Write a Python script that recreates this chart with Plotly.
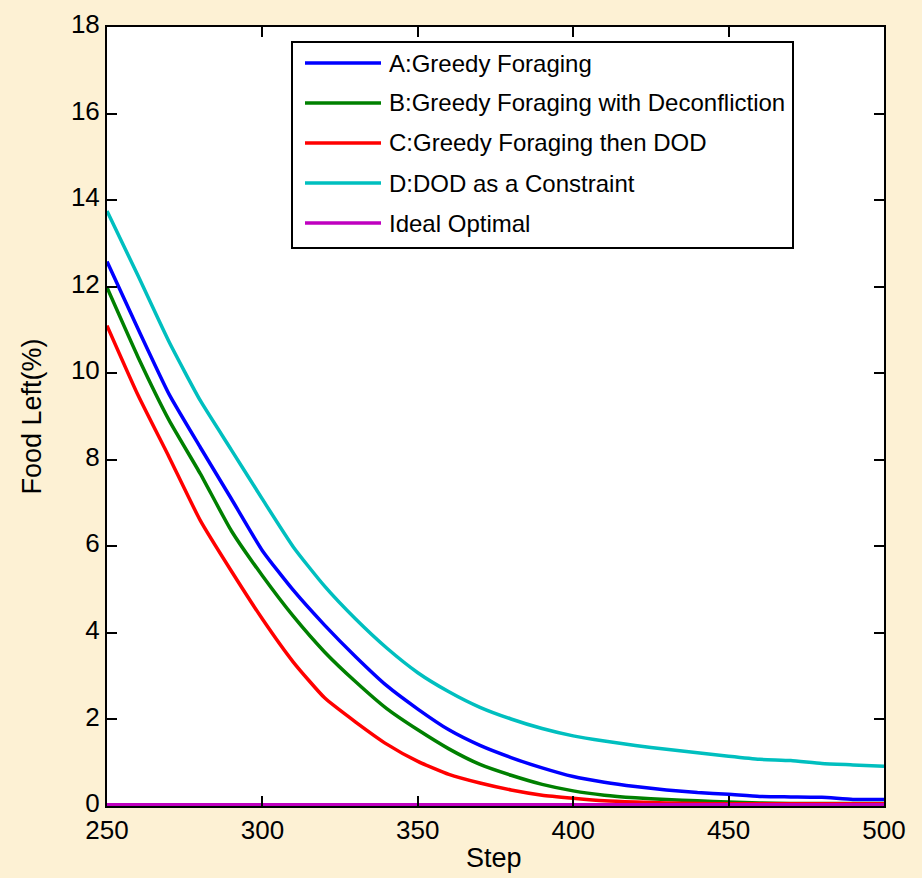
import plotly.graph_objects as go

# Simulation steps (x axis)
steps = [250, 260, 270, 280, 290, 300, 310, 320, 330, 340, 350, 360, 370, 380,
         390, 400, 410, 420, 430, 440, 450, 460, 470, 480, 490, 500]

# Percentage of food left for each strategy
greedy = [12.58, 11.02, 9.51, 8.29, 7.10, 5.90, 4.98, 4.18, 3.45, 2.78, 2.24, 1.76,
          1.40, 1.12, 0.88, 0.68, 0.55, 0.45, 0.37, 0.31, 0.27, 0.22, 0.21, 0.20,
          0.15, 0.15]
greedy_deconf = [11.98, 10.37, 8.91, 7.68, 6.36, 5.32, 4.38, 3.56, 2.87, 2.25, 1.76,
                 1.32, 0.96, 0.71, 0.50, 0.35, 0.25, 0.19, 0.15, 0.12, 0.09, 0.07,
                 0.06, 0.06, 0.06, 0.06]
greedy_dod = [11.10, 9.49, 8.06, 6.60, 5.43, 4.32, 3.32, 2.50, 1.94, 1.43, 1.03, 0.73,
              0.53, 0.37, 0.25, 0.18, 0.12, 0.09, 0.07, 0.06, 0.05, 0.05, 0.05, 0.05,
              0.05, 0.05]
dod_constraint = [13.75, 12.25, 10.72, 9.37, 8.23, 7.09, 5.98, 5.08, 4.32, 3.65, 3.08,
                  2.64, 2.28, 2.01, 1.79, 1.62, 1.50, 1.40, 1.31, 1.23, 1.15, 1.08,
                  1.05, 0.98, 0.95, 0.92]
ideal = [0.0] * len(steps)

names = ["A:Greedy Foraging",
         "B:Greedy Foraging with Deconfliction",
         "C:Greedy Foraging then DOD",
         "D:DOD as a Constraint",
         "Ideal Optimal"]
series = [greedy, greedy_deconf, greedy_dod, dod_constraint, ideal]
colors = ["#0000FF", "#008000", "#FF0000", "#00BFBF", "#BF00BF"]
widths = [3.5, 3.5, 3.5, 3.5, 6]

x_ticks = [250, 300, 350, 400, 450, 500]
y_ticks = [0, 2, 4, 6, 8, 10, 12, 14, 16, 18]

FONT = "Liberation Sans, Arial, sans-serif"
BG = "#FDF1D4"

fig = go.Figure()
for name, ys, col, w in zip(names, series, colors, widths):
    fig.add_trace(go.Scatter(x=steps, y=ys, mode="lines", name=name,
                             line=dict(color=col, width=w, shape="spline",
                                       smoothing=0.5),
                             showlegend=False))

axis_common = dict(showline=True, linecolor="black", linewidth=2, mirror="ticks",
                   ticks="inside", ticklen=10, tickwidth=2, tickcolor="black",
                   showgrid=False, zeroline=False, automargin=False,
                   tickfont=dict(family=FONT, size=26, color="black"))

fig.update_xaxes(range=[250, 500], tickvals=x_ticks, **axis_common)
fig.update_yaxes(range=[0, 18], tickvals=y_ticks, ticklabelshift=-3, **axis_common)

# Plot area in pixels, used to lay out the boxed legend
W, H = 922, 878
L, R, T, B = 107, 38, 27, 72
pw, ph = W - L - R, H - T - B


def px_x(p):
    return (p - L) / pw


def px_y(p):
    return (H - B - p) / ph


shapes = [dict(type="rect", xref="paper", yref="paper",
               x0=px_x(292), x1=px_x(793), y0=px_y(248), y1=px_y(42),
               line=dict(color="black", width=2), fillcolor="white", layer="above")]
annotations = []
for i, (name, col) in enumerate(zip(names, colors)):
    yy = px_y(63 + 40 * i)
    shapes.append(dict(type="line", xref="paper", yref="paper",
                       x0=px_x(305), x1=px_x(381), y0=yy, y1=yy,
                       line=dict(color=col, width=3.5), layer="above"))
    annotations.append(dict(xref="paper", yref="paper", x=px_x(387), y=yy,
                            text=name, showarrow=False, xanchor="left",
                            yanchor="middle",
                            font=dict(family=FONT, size=24, color="black")))

annotations.append(dict(xref="paper", yref="paper", x=px_x(31), y=0.5,
                        text="Food Left(%)", textangle=-90, showarrow=False,
                        xanchor="center", yanchor="middle",
                        font=dict(family=FONT, size=27, color="black")))
annotations.append(dict(xref="paper", yref="paper", x=px_x(494), y=px_y(858),
                        text="Step", showarrow=False, xanchor="center",
                        yanchor="middle",
                        font=dict(family=FONT, size=27, color="black")))

fig.update_layout(width=W, height=H, margin=dict(l=L, r=R, t=T, b=B),
                  paper_bgcolor=BG, plot_bgcolor="white",
                  shapes=shapes, annotations=annotations, showlegend=False)

fig.write_html("out.html")
